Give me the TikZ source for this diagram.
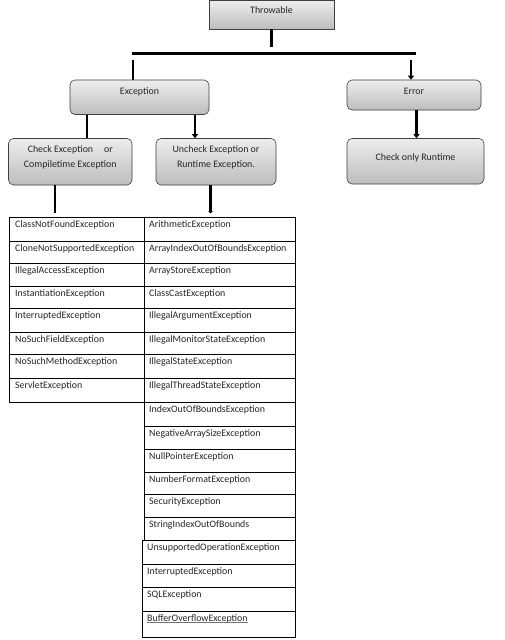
\documentclass[tikz,border=0pt]{standalone}
\usepackage{fontspec}
\setmainfont{Carlito}
\usetikzlibrary{arrows.meta}
\newcommand\diafont{\fontsize{9.9}{15}\selectfont}
\begin{document}
\begin{tikzpicture}[x=1pt,y=-1pt,
  box/.style={draw=black!75, line width=0.6pt, top color=black!7, bottom color=black!26, inner sep=0pt},
  rbox/.style={box, rounded corners=5pt},
  boxtext/.style={font=\diafont, text=black!85, align=center},
  conn/.style={line width=2.2pt, black},
  arr/.style={conn, -{Triangle[length=4pt,width=6pt]}},
  grid/.style={line width=0.6pt, black},
  cell/.style={anchor=base west, inner sep=0pt, font=\diafont, text=black!85}]
\useasboundingbox (0,0) rectangle (505,640);
\fill[white] (0,0) rectangle (505,640);

% boxes
\node[box, minimum width=125pt, minimum height=28.5pt,
  label={[boxtext, yshift=4.5pt]center:Throwable}] (thr) at (271.5,14.75) {};
\node[rbox, minimum width=139pt, minimum height=34.5pt,
  label={[boxtext, yshift=5.3pt]center:Exception}] (exc) at (139.5,97.25) {};
\node[rbox, minimum width=134pt, minimum height=30pt,
  label={[boxtext, yshift=3.3pt]center:Error}] (err) at (414,95) {};
\node[rbox, minimum width=123.5pt, minimum height=46.5pt,
  label={[boxtext, yshift=4pt]center:Check Exception\hspace{1.1em}or\\Compiletime Exception}] (chk) at (70.25,161.75) {};
\node[rbox, minimum width=120pt, minimum height=46.5pt,
  label={[boxtext, yshift=4pt]center:Uncheck Exception or\\Runtime Exception.}] (unc) at (216,161.75) {};
\node[rbox, minimum width=137pt, minimum height=45.5pt,
  label={[boxtext, yshift=3.5pt]center:Check only Runtime}] (rt) at (415.5,161.25) {};

% connector coordinates
\coordinate (thrEnd) at (271.5,47);
\coordinate (barL) at (131.5,53.5);
\coordinate (barR) at (415.5,53.5);
\coordinate (dropL) at (133,60);
\coordinate (dropR) at (411,60);
\coordinate (tL) at (55,213);
\coordinate (tR) at (210.5,213.5);

% connectors
\draw[conn] (thr.south) -- (thrEnd);
\draw[conn] (barL) -- (barR);
\draw[conn] (dropL) -- (dropL |- exc.north);
\draw[arr] (dropR) -- (dropR |- err.north);
\draw[conn] (exc.south -| 87,0) -- (chk.north -| 87,0);
\draw[arr] (exc.south -| 195,0) -- (unc.north -| 195,0);
\draw[arr] (err.south -| 416.5,0) -- (rt.north -| 416.5,0);
\draw[conn] (chk.south -| tL) -- (tL);
\draw[conn, -{Triangle[length=2.5pt,width=4.5pt]}] (unc.south -| tR) -- (tR);

% table grid
\draw[grid] (9,217) -- (9,402);
\draw[grid] (144.5,217) -- (144.5,540);
\draw[grid] (295.5,217) -- (295.5,540);
\draw[grid] (142.7,540) -- (142.7,637.5);
\draw[grid] (295,540) -- (295,637.5);
\foreach \y in {217,241,263,286,308,332,354,378,402}
  \draw[grid] (9,\y) -- (295.5,\y);
\foreach \y in {426,449,472,494,517}
  \draw[grid] (144.5,\y) -- (295.5,\y);
\foreach \y in {540,564,587,611,637.5}
  \draw[grid] (142.7,\y) -- (295,\y);

% left column
\node[cell] (l1) at (15,227) {ClassNotFoundException};
\node[cell] (l2) at (15,251) {CloneNotSupportedException};
\node[cell] (l3) at (15,273) {IllegalAccessException};
\node[cell] (l4) at (15,296) {InstantiationException};
\node[cell] (l5) at (15,318) {InterruptedException};
\node[cell] (l6) at (15,342) {NoSuchFieldException};
\node[cell] (l7) at (15,364) {NoSuchMethodException};
\node[cell] (l8) at (15,388) {ServletException};

% right column
\node[cell] (r1) at (149,227) {ArithmeticException};
\node[cell] (r2) at (149,251) {ArrayIndexOutOfBoundsException};
\node[cell] (r3) at (149,273) {ArrayStoreException};
\node[cell] (r4) at (149,296) {ClassCastException};
\node[cell] (r5) at (149,318) {IllegalArgumentException};
\node[cell] (r6) at (149,342) {IllegalMonitorStateException};
\node[cell] (r7) at (149,364) {IllegalStateException};
\node[cell] (r8) at (149,388) {IllegalThreadStateException};
\node[cell] (r9) at (149,412) {IndexOutOfBoundsException};
\node[cell] (r10) at (149,436) {NegativeArraySizeException};
\node[cell] (r11) at (149,459) {NullPointerException};
\node[cell] (r12) at (149,482) {NumberFormatException};
\node[cell] (r13) at (149,504) {SecurityException};
\node[cell] (r14) at (149,527) {StringIndexOutOfBounds};
\node[cell] (r15) at (147,550) {UnsupportedOperationException};
\node[cell] (r16) at (147,574) {InterruptedException};
\node[cell] (r17) at (147,597) {SQLException};
\node[cell] (r18) at (147,621) {BufferOverflowException};
\draw[black!55, line width=0.6pt] ([yshift=-1.3pt]r18.base west) -- ([yshift=-1.3pt]r18.base east);
\end{tikzpicture}
\end{document}
